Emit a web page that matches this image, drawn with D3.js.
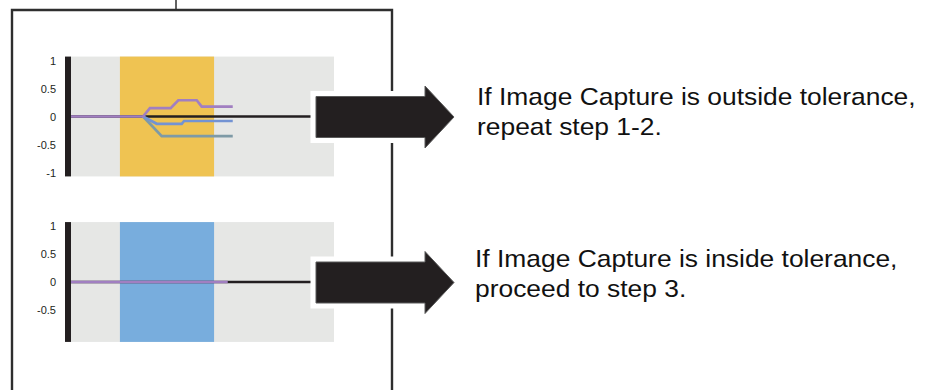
<!DOCTYPE html>
<html><head><meta charset="utf-8">
<script src="https://cdn.jsdelivr.net/npm/d3@7/dist/d3.min.js"></script>
<style>html,body{margin:0;padding:0;background:#fff;}svg{display:block;}</style>
</head><body>
<script>
// ---- data ----
const yTicksTop = [1, 0.5, 0, -0.5, -1];
const yTicksBottom = [1, 0.5, 0, -0.5];
const bandTop = [1.86, 5.44];
const bandBottom = [1.86, 5.44];
const purpleX = [0, 2.74, 3.0, 3.79, 4.08, 4.78, 4.97, 6.15];
const purpleY = [0, 0, 0.15, 0.15, 0.29, 0.29, 0.175, 0.175];
const blueX = [2.74, 3.26, 4.21, 4.30, 6.15];
const blueY = [0, -0.13, -0.13, -0.08, -0.08];
const tealX = [2.74, 3.45, 6.15];
const tealY = [0, -0.35, -0.35];
const bottomPurpleX = [0, 5.96];
const bottomPurpleY = [0, 0];
const zeroLineX = [0, 10];
const messagesTop = ["If Image Capture is outside tolerance,", "repeat step 1-2."];
const messagesBottom = ["If Image Capture is inside tolerance,", "proceed to step 3."];

const W = 930, H = 390;
const svg = d3.select("body").append("svg").attr("width", W).attr("height", H);

// frame
svg.append("path").attr("d", "M12,400V10H392V400").attr("fill", "none")
  .attr("stroke", "#2e2e2e").attr("stroke-width", 2.4);
svg.append("line").attr("x1", 176).attr("x2", 176).attr("y1", 0).attr("y2", 9)
  .attr("stroke", "#2e2e2e").attr("stroke-width", 1.5);

const x = d3.scaleLinear().domain([0, 10]).range([71, 334]);

function panel(offset, band, bandColor, ticks, lines) {
  const y = d3.scaleLinear().domain([-1, 1]).range([172.5 + offset, 60.5 + offset]);
  const g = svg.append("g");
  g.append("rect").attr("x", x(0)).attr("width", x(10) - x(0))
    .attr("y", y(1.07)).attr("height", y(-1.07) - y(1.07)).attr("fill", "#e6e7e5");
  g.append("rect").attr("x", x(band[0])).attr("width", x(band[1]) - x(band[0]))
    .attr("y", y(1.07)).attr("height", y(-1.07) - y(1.07)).attr("fill", bandColor);
  // axis bar
  g.append("rect").attr("x", 65).attr("width", 6)
    .attr("y", y(1.07)).attr("height", y(-1.07) - y(1.07)).attr("fill", "#231f20");
  const ax = g.append("g").attr("transform", "translate(65,0)")
    .call(d3.axisLeft(y).tickValues(ticks).tickSize(0).tickPadding(9).tickFormat(d => String(d)));
  ax.select(".domain").remove();
  ax.attr("font-size", null).attr("font-family", null);
  ax.selectAll("text").attr("font-family", "Liberation Sans, Arial, sans-serif")
    .style("font-size", "11px").attr("fill", "#231f20");
  const line = d3.line().x(d => x(d[0])).y(d => y(d[1]));
  g.append("path").attr("d", line(zeroLineX.map(v => [v, 0]))).attr("fill", "none")
    .attr("stroke", "#231f20").attr("stroke-width", 2.7);
  lines.forEach(l => {
    g.append("path").attr("d", line(l.xs.map((v, i) => [v, l.ys[i]])))
      .attr("fill", "none").attr("stroke", l.color).attr("stroke-width", 2.7)
      .attr("stroke-linejoin", "miter");
  });
  return y;
}

panel(0, bandTop, "#efc352", yTicksTop, [
  {xs: tealX, ys: tealY, color: "#7e9aa6"},
  {xs: blueX, ys: blueY, color: "#7393d3"},
  {xs: purpleX, ys: purpleY, color: "#a17fc1"}
]);
panel(165.5, bandBottom, "#78addd", yTicksBottom, [
  {xs: bottomPurpleX, ys: bottomPurpleY, color: "#a17fc1"}
]);

function arrow(cy) {
  const d = `M316,${cy - 20.5}H425V${cy - 31}L454,${cy}L425,${cy + 31}V${cy + 20.5}H316Z`;
  svg.append("path").attr("d", d).attr("fill", "#fff").attr("stroke", "#fff")
    .attr("stroke-width", 11).attr("stroke-linejoin", "miter");
  svg.append("path").attr("d", d).attr("fill", "#231f20").attr("stroke", "#5a5a5a")
    .attr("stroke-width", 1).attr("stroke-linejoin", "round");
}
arrow(117);
arrow(282.5);

function message(lines, x0, y0) {
  lines.forEach((t, i) => {
    svg.append("text").attr("transform", `translate(${x0},${y0 + i * 30}) scale(1.1,1)`)
      .attr("font-family", "Liberation Sans, Arial, sans-serif").attr("font-size", 24)
      .attr("fill", "#111").text(t);
  });
}
message(messagesTop, 477, 104.5);
message(messagesBottom, 475, 266.5);
</script>
</body></html>
